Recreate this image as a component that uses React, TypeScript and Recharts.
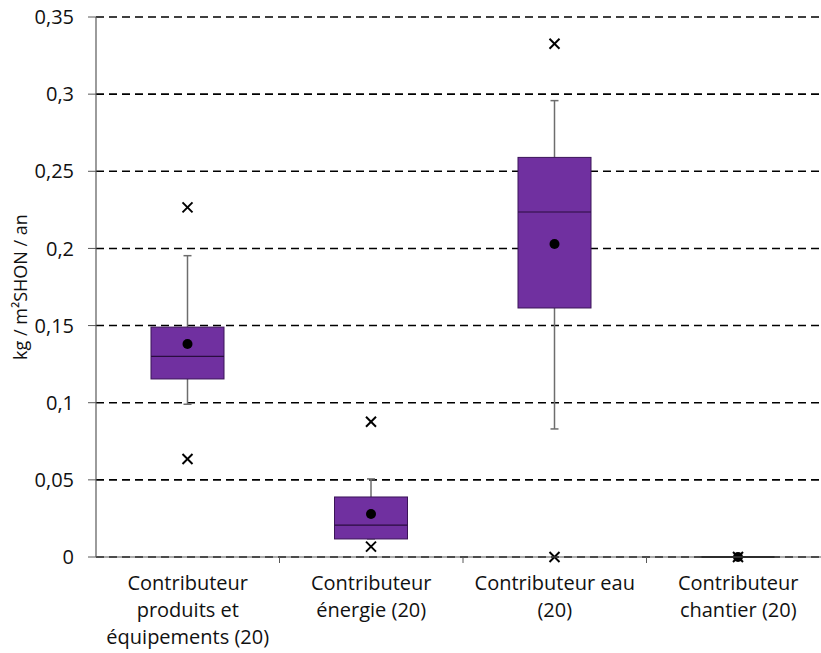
import { Bar, CartesianGrid, ComposedChart, XAxis, YAxis } from "recharts";

const categories = [
  "Contributeur produits et équipements (20)",
  "Contributeur énergie (20)",
  "Contributeur eau (20)",
  "Contributeur chantier (20)",
];

const labelLines = [
  ["Contributeur", "produits et", "équipements (20)"],
  ["Contributeur", "énergie (20)"],
  ["Contributeur eau", "(20)"],
  ["Contributeur", "chantier (20)"],
];

const whiskerLow = [0.099, 0.0117, 0.083, 0];
const q1 = [0.1154, 0.0117, 0.1614, 0];
const median = [0.13, 0.0207, 0.2236, 0];
const q3 = [0.149, 0.0389, 0.259, 0];
const whiskerHigh = [0.1953, 0.0506, 0.2958, 0];
const means = [0.138, 0.0279, 0.2029, 0];
const outliers = [[0.2266, 0.0635], [0.0877, 0.0067], [0.3327, 0], [0]];

const yTicks = [0, 0.05, 0.1, 0.15, 0.2, 0.25, 0.3, 0.35];

const data = categories.map((name, i) => ({
  name,
  range: [Math.min(whiskerLow[i], ...outliers[i]), Math.max(whiskerHigh[i], ...outliers[i])],
  whiskerLow: whiskerLow[i],
  q1: q1[i],
  median: median[i],
  q3: q3[i],
  whiskerHigh: whiskerHigh[i],
  mean: means[i],
  outliers: outliers[i],
}));

const FONT = "'Open Sans', sans-serif";
const PURPLE = "#7030a0";
const TEXT = "#111";

const Cross = ({ cx, cy }: { cx: number; cy: number }) => (
  <g stroke="#000" strokeWidth={2}>
    <line x1={cx - 5} y1={cy - 5} x2={cx + 5} y2={cy + 5} />
    <line x1={cx - 5} y1={cy + 5} x2={cx + 5} y2={cy - 5} />
  </g>
);

// everything is placed by interpolating inside the bar that recharts scaled for the full range
const BoxShape = (props: any) => {
  const { x, y, width, height, payload } = props;
  const [lo, hi] = payload.range;
  const span = hi - lo;
  const yOf = (v: number) => (span > 0 ? y + (height * (hi - v)) / span : y + height);
  const cx = x + width / 2;
  const cap = 4;
  const flat = payload.q3 === payload.q1;
  return (
    <g>
      <line x1={cx} x2={cx} y1={yOf(payload.whiskerHigh)} y2={yOf(payload.q3)} stroke="#6d6d6d" strokeWidth={1.5} />
      <line x1={cx - cap} x2={cx + cap} y1={yOf(payload.whiskerHigh)} y2={yOf(payload.whiskerHigh)} stroke="#6d6d6d" strokeWidth={1.5} />
      <line x1={cx} x2={cx} y1={yOf(payload.q1)} y2={yOf(payload.whiskerLow)} stroke="#6d6d6d" strokeWidth={1.5} />
      <line x1={cx - cap} x2={cx + cap} y1={yOf(payload.whiskerLow)} y2={yOf(payload.whiskerLow)} stroke="#6d6d6d" strokeWidth={1.5} />
      {flat ? (
        <line x1={x} x2={x + width} y1={yOf(payload.q1)} y2={yOf(payload.q1)} stroke="#000" strokeWidth={2} />
      ) : (
        <>
          <rect
            x={x}
            y={yOf(payload.q3)}
            width={width}
            height={yOf(payload.q1) - yOf(payload.q3)}
            fill={PURPLE}
            stroke="#3b1458"
            strokeWidth={1}
          />
          <line x1={x} x2={x + width} y1={yOf(payload.median)} y2={yOf(payload.median)} stroke="#2a0d40" strokeWidth={1.2} />
        </>
      )}
      <circle cx={cx} cy={yOf(payload.mean)} r={5} fill="#000" />
      {payload.outliers.map((v: number, k: number) => (
        <Cross key={k} cx={cx} cy={yOf(v)} />
      ))}
    </g>
  );
};

const CategoryTick = (props: any) => {
  const { x, y, payload } = props;
  const lines = labelLines[payload.index] ?? [payload.value];
  const edge = x + (payload.offset ?? 0);
  return (
    <g>
      <line x1={edge} x2={edge} y1={y} y2={y + 6} stroke="#595959" strokeWidth={1} />
      {lines.map((line, k) => (
        <text key={k} x={x} y={y + 33 + k * 27} textAnchor="middle" fill={TEXT} fontSize={20} fontFamily={FONT}>
          {line}
        </text>
      ))}
    </g>
  );
};

export default function App() {
  return (
    <div style={{ position: "absolute", left: 0, top: 0, width: 821, height: 653, overflow: "hidden", background: "#fff" }}>
      <ComposedChart width={850} height={653} data={data} margin={{ top: 17, right: 20, bottom: 0, left: 0 }}>
        <CartesianGrid vertical={false} stroke="#000" strokeDasharray="8 5" strokeWidth={1.6} />
        <XAxis
          dataKey="name"
          interval={0}
          tickLine={false}
          tickSize={0}
          tickMargin={0}
          height={96}
          axisLine={{ stroke: "#595959", strokeWidth: 1.2 }}
          tick={<CategoryTick />}
        />
        <YAxis
          type="number"
          domain={[0, 0.35]}
          ticks={yTicks}
          width={96}
          tickSize={8}
          tickMargin={14}
          axisLine={{ stroke: "#595959", strokeWidth: 1.2 }}
          tickLine={{ stroke: "#595959" }}
          tickFormatter={(v: number) => String(v).replace(".", ",")}
          tick={{ fill: TEXT, fontSize: 20, fontFamily: FONT }}
          label={{
            content: (p: any) => {
              const vb = p.viewBox;
              const cy = vb.y + vb.height / 2;
              return (
                <text
                  x={20}
                  y={cy}
                  transform={`rotate(-90 20 ${cy})`}
                  textAnchor="middle"
                  dominantBaseline="central"
                  fill={TEXT}
                  fontSize={18}
                  fontFamily={FONT}
                >
                  kg / m²SHON / an
                </text>
              );
            },
          }}
        />
        <Bar dataKey="range" barSize={73} shape={<BoxShape />} isAnimationActive={false} />
      </ComposedChart>
    </div>
  );
}
